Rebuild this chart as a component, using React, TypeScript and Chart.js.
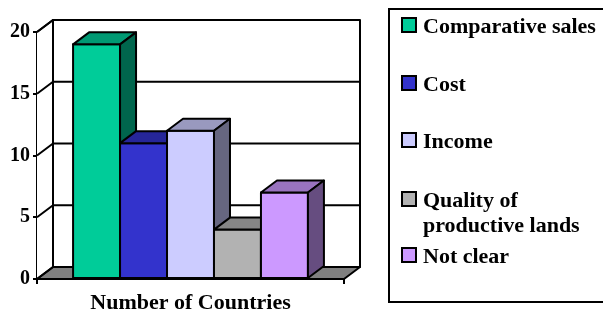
import React, { useEffect, useRef } from "react";
import { Chart, registerables } from "chart.js";

Chart.register(...registerables);

const categories = ["Number of Countries"];
const seriesNames = ["Comparative sales", "Cost", "Income", "Quality of productive lands", "Not clear"];
const seriesValues = [19, 11, 12, 4, 7];
const yTickMax = 20;
const yTickStep = 5;
const legendLines = [["Comparative sales"], ["Cost"], ["Income"], ["Quality of", "productive lands"], ["Not clear"]];

const frontColors = ["#00CC99", "#3333CC", "#CCCCFF", "#B2B2B2", "#CC99FF"];
const topColors = ["#009973", "#262699", "#9999BF", "#868686", "#9973BF"];
const sideColors = ["#00664D", "#1A1A66", "#666680", "#595959", "#664D80"];

const DX = 16;
const DY = -12;
const FONT = "'Liberation Serif', 'Times New Roman', serif";

const wallsPlugin = {
  id: "walls3d",
  beforeDatasetsDraw(chart: any) {
    const { ctx, chartArea } = chart;
    const { left: L, right: R, top: T, bottom: B } = chartArea;
    const yScale = chart.scales.y;
    ctx.save();
    ctx.lineWidth = 2;
    ctx.strokeStyle = "#000";
    ctx.lineJoin = "round";
    ctx.fillStyle = "#fff";
    ctx.beginPath();
    ctx.moveTo(L, T);
    ctx.lineTo(L + DX, T + DY);
    ctx.lineTo(L + DX, B + DY);
    ctx.lineTo(L, B);
    ctx.closePath();
    ctx.fill();
    ctx.fillRect(L + DX, T + DY, R - L, B - T);
    ctx.strokeRect(L + DX, T + DY, R - L, B - T);
    ctx.fillStyle = "#808080";
    ctx.beginPath();
    ctx.moveTo(L, B);
    ctx.lineTo(R, B);
    ctx.lineTo(R + DX, B + DY);
    ctx.lineTo(L + DX, B + DY);
    ctx.closePath();
    ctx.fill();
    ctx.stroke();
    yScale.ticks.forEach((t: any) => {
      const y = yScale.getPixelForValue(t.value);
      ctx.beginPath();
      ctx.moveTo(L, y);
      ctx.lineTo(L + DX, y + DY);
      ctx.lineTo(R + DX, y + DY);
      ctx.stroke();
    });
    ctx.beginPath();
    ctx.moveTo(L, T);
    ctx.lineTo(L + DX, T + DY);
    ctx.lineTo(L + DX, B + DY);
    ctx.stroke();
    ctx.restore();
  },
  afterDatasetsDraw(chart: any) {
    const { ctx } = chart;
    ctx.save();
    ctx.lineWidth = 2;
    ctx.strokeStyle = "#000";
    ctx.lineJoin = "round";
    seriesNames.forEach((_, i) => {
      const meta = chart.getDatasetMeta(i);
      meta.data.forEach((el: any) => {
        const p = el.getProps(["x", "y", "base", "width"], true);
        const x0 = p.x - p.width / 2;
        const x1 = p.x + p.width / 2;
        const yt = p.y;
        const yb = p.base;
        ctx.fillStyle = frontColors[i];
        ctx.fillRect(x0, yt, x1 - x0, yb - yt);
        ctx.strokeRect(x0, yt, x1 - x0, yb - yt);
        ctx.fillStyle = topColors[i];
        ctx.beginPath();
        ctx.moveTo(x0, yt);
        ctx.lineTo(x0 + DX, yt + DY);
        ctx.lineTo(x1 + DX, yt + DY);
        ctx.lineTo(x1, yt);
        ctx.closePath();
        ctx.fill();
        ctx.stroke();
        ctx.fillStyle = sideColors[i];
        ctx.beginPath();
        ctx.moveTo(x1, yt);
        ctx.lineTo(x1 + DX, yt + DY);
        ctx.lineTo(x1 + DX, yb + DY);
        ctx.lineTo(x1, yb);
        ctx.closePath();
        ctx.fill();
        ctx.stroke();
      });
    });
    ctx.restore();
  },
};

const legendPlugin = {
  id: "boxLegend",
  afterDraw(chart: any) {
    const { ctx } = chart;
    ctx.save();
    ctx.lineWidth = 2;
    ctx.strokeStyle = "#000";
    ctx.strokeRect(389, 9, 230, 293);
    const baselines = [[33], [91], [148], [207, 232], [263]];
    ctx.font = `bold 22px ${FONT}`;
    ctx.textBaseline = "alphabetic";
    ctx.textAlign = "left";
    legendLines.forEach((lines, i) => {
      const b0 = baselines[i][0];
      ctx.fillStyle = frontColors[i];
      ctx.fillRect(402, b0 - 15, 14, 14);
      ctx.strokeRect(402, b0 - 15, 14, 14);
      ctx.fillStyle = "#000";
      lines.forEach((ln, j) => ctx.fillText(ln, 423, baselines[i][j]));
    });
    ctx.restore();
  },
};

export default function App() {
  const ref = useRef<HTMLCanvasElement>(null);
  useEffect(() => {
    if (!ref.current) return;
    const chart = new Chart(ref.current, {
      type: "bar",
      data: {
        labels: categories,
        datasets: seriesNames.map((name, i) => ({
          label: name,
          data: [seriesValues[i]],
          backgroundColor: frontColors[i],
          borderColor: "#000",
          borderWidth: 0,
          barPercentage: 1,
          categoryPercentage: 0.765,
        })),
      },
      options: {
        animation: false,
        responsive: false,
        devicePixelRatio: 1,
        layout: { padding: { left: 0, top: 32, right: 259, bottom: 0 } },
        plugins: { legend: { display: false }, tooltip: { enabled: false }, title: { display: false } },
        scales: {
          x: {
            type: "category",
            z: 1,
            grid: { drawOnChartArea: false, drawTicks: true, tickLength: 5, color: "#000", lineWidth: 2, offset: true },
            border: { display: true, color: "#000", width: 2 },
            ticks: { color: "#000", font: { family: FONT, size: 22, weight: "bold" }, padding: 6, maxRotation: 0 },
            afterFit: (s: any) => { s.height = 33; },
          },
          y: {
            min: 0,
            max: yTickMax,
            z: 1,
            grid: { drawOnChartArea: false, drawTicks: true, tickLength: 4, color: "#000", lineWidth: 2 },
            border: { display: true, color: "#000", width: 2 },
            ticks: { stepSize: yTickStep, color: "#000", font: { family: FONT, size: 20, weight: "bold" }, padding: 3 },
            afterFit: (s: any) => { s.width = 37; },
          },
        },
      },
      plugins: [wallsPlugin, legendPlugin],
    } as any);
    return () => chart.destroy();
  }, []);
  return (
    <div style={{ position: "absolute", left: 0, top: 0, width: 603, height: 312 }}>
      <canvas ref={ref} width={603} height={312} style={{ display: "block", width: 603, height: 312 }} />
    </div>
  );
}
